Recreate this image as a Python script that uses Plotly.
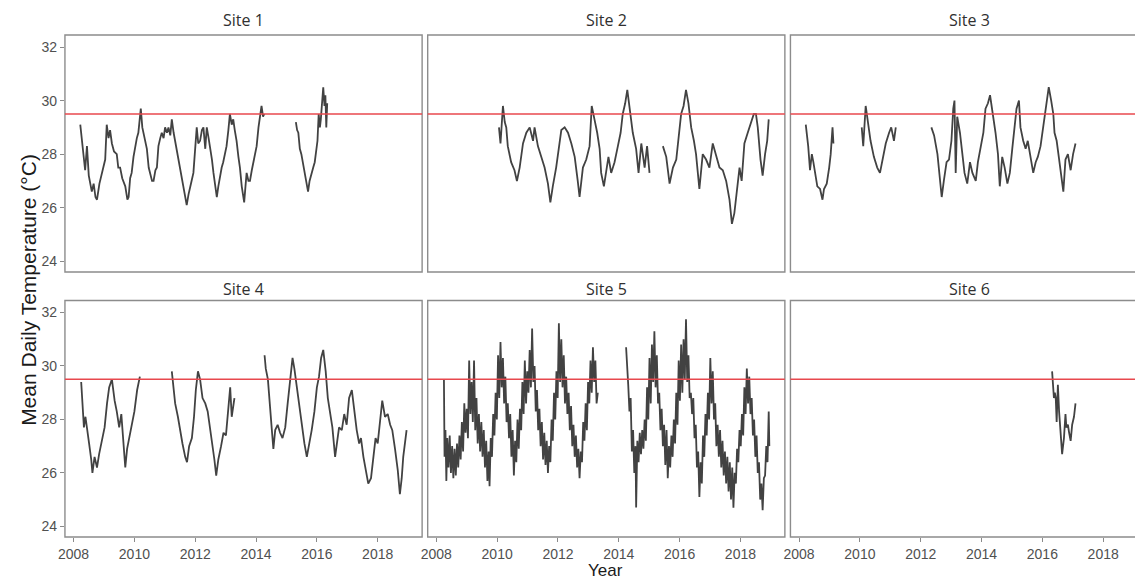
import plotly.graph_objects as go

# ---------------- data (decimal year, °C) ----------------
site1_year = [2008.22, 2008.26, 2008.33, 2008.38, 2008.44, 2008.50, 2008.60, 2008.66, 2008.72, 2008.77,
              2008.85, 2008.93, 2009.00, 2009.04, 2009.09, 2009.15, 2009.20, 2009.26, 2009.33, 2009.42,
              2009.47, 2009.53, 2009.60, 2009.70, 2009.77, 2009.81, 2009.86, 2009.91, 2009.97, 2010.02,
              2010.08, 2010.13, 2010.21, 2010.26, 2010.30, 2010.36, 2010.41, 2010.47, 2010.52, 2010.58,
              2010.63, 2010.69, 2010.74, 2010.79, 2010.85, 2010.90, 2010.96, 2011.01, 2011.07, 2011.12,
              2011.18, 2011.23, 2011.29, 2011.34, 2011.40, 2011.45, 2011.53, 2011.61, 2011.67, 2011.72,
              2011.78, 2011.83, 2011.88, 2011.94, 2012.00, 2012.05, 2012.10, 2012.16, 2012.22, 2012.27,
              2012.33, 2012.38, 2012.44, 2012.49, 2012.55, 2012.60, 2012.66, 2012.71, 2012.76, 2012.81,
              2012.87, 2012.92, 2012.98, 2013.03, 2013.09, 2013.14, 2013.20, 2013.25, 2013.30, 2013.36,
              2013.42, 2013.47, 2013.53, 2013.58, 2013.61, 2013.66, 2013.69, 2013.75, 2013.80, 2013.86,
              2013.91, 2013.97, 2014.02, 2014.08, 2014.13, 2014.18, 2014.23, 2014.27, None,
              2015.31, 2015.35, 2015.39, 2015.44, 2015.49, 2015.55, 2015.60, 2015.66, 2015.71, 2015.76,
              2015.82, 2015.88, 2015.93, 2015.98, 2016.02, 2016.06, 2016.10, 2016.13, 2016.17, 2016.21,
              2016.25, 2016.28, 2016.31, 2016.34]
site1_temp = [29.1, 28.6, 27.9, 27.4, 28.3, 27.2, 26.6, 26.9, 26.4, 26.3,
              26.9, 27.3, 27.6, 27.8, 29.1, 28.6, 28.9, 28.4, 28.1, 28.0,
              27.5, 27.5, 27.1, 26.8, 26.3, 26.4, 27.1, 27.3, 27.9, 28.3,
              28.6, 28.8, 29.7, 29.0, 28.8, 28.4, 28.2, 27.5, 27.3, 27.0,
              27.0, 27.4, 27.5, 28.3, 28.6, 28.8, 28.6, 29.0, 28.8, 29.0,
              28.7, 29.3, 28.8, 28.5, 28.1, 27.8, 27.3, 26.9, 26.4, 26.1,
              26.5, 26.8, 27.0, 27.3, 28.3, 29.0, 28.4, 28.5, 28.9, 29.0,
              28.2, 29.0, 28.6, 28.3, 27.8, 27.3, 26.8, 26.4, 26.8, 27.2,
              27.5, 27.7, 28.0, 28.3, 28.9, 29.5, 29.1, 29.3, 28.9, 28.5,
              27.9, 27.5, 26.8, 26.3, 26.2, 26.9, 27.3, 27.0, 27.0, 27.4,
              27.7, 28.0, 28.3, 29.0, 29.5, 29.8, 29.4, 29.5, None,
              29.2, 28.9, 28.8, 28.2, 28.0, 27.6, 27.3, 26.9, 26.6, 27.0,
              27.3, 27.5, 27.7, 28.2, 28.5, 29.5, 29.0, 29.3, 29.9, 30.5,
              29.8, 30.2, 29.0, 29.9]

site2_year = [2010.06, 2010.11, 2010.19, 2010.25, 2010.30, 2010.35, 2010.46, 2010.57, 2010.65, 2010.74,
              2010.85, 2010.96, 2011.07, 2011.18, 2011.23, 2011.34, 2011.45, 2011.56, 2011.67, 2011.75,
              2011.83, 2011.94, 2012.05, 2012.11, 2012.22, 2012.33, 2012.44, 2012.55, 2012.65, 2012.71,
              2012.82, 2012.93, 2013.04, 2013.11, 2013.20, 2013.29, 2013.37, 2013.42, 2013.51, 2013.59,
              2013.66, 2013.75, 2013.86, 2013.97, 2014.06, 2014.13, 2014.21, 2014.28, 2014.35, 2014.46,
              2014.57, 2014.65, 2014.74, 2014.85, 2014.93, 2015.01, None,
              2015.45, 2015.56, 2015.67, 2015.78, 2015.89, 2015.96, 2016.05, 2016.13, 2016.21, 2016.29,
              2016.38, 2016.47, 2016.54, 2016.65, 2016.76, 2016.87, 2016.98, 2017.09, 2017.20, 2017.31,
              2017.42, 2017.53, 2017.64, 2017.72, 2017.80, 2017.89, 2017.97, 2018.04, 2018.13, 2018.24,
              2018.35, 2018.44, 2018.51, 2018.57, 2018.66, 2018.73, 2018.81, 2018.88, 2018.93]
site2_temp = [29.0, 28.4, 29.8, 29.2, 29.0, 28.3, 27.7, 27.4, 27.0, 27.5,
              28.4, 28.8, 29.0, 28.5, 29.0, 28.3, 27.9, 27.5, 26.9, 26.2,
              26.8, 27.5, 28.4, 28.9, 29.0, 28.8, 28.4, 27.9, 27.0, 26.4,
              27.5, 27.8, 28.3, 29.8, 29.3, 28.8, 28.2, 27.3, 26.8, 27.5,
              27.9, 27.3, 27.7, 28.3, 28.8, 29.5, 29.9, 30.4, 29.8, 28.8,
              28.2, 27.3, 28.4, 27.5, 28.3, 27.3, None,
              28.3, 27.9, 26.9, 27.5, 27.8, 28.5, 29.5, 29.8, 30.4, 29.9,
              29.0, 28.5, 28.0, 26.7, 28.0, 27.8, 27.5, 28.4, 27.9, 27.5,
              27.4, 27.0, 26.3, 25.4, 25.8, 26.7, 27.5, 27.0, 28.4, 28.8,
              29.2, 29.5, 29.5, 29.0, 27.8, 27.2, 28.0, 28.5, 29.3]

site3_year = [2008.22, 2008.30, 2008.36, 2008.42, 2008.47, 2008.55, 2008.60, 2008.69, 2008.77, 2008.82,
              2008.91, 2008.99, 2009.04, 2009.10, 2009.13, None,
              2010.06, 2010.11, 2010.19, 2010.27, 2010.35, 2010.46, 2010.57, 2010.66, 2010.74, 2010.85,
              2010.96, 2011.03, 2011.12, 2011.18, None,
              2012.35, 2012.44, 2012.55, 2012.63, 2012.69, 2012.76, 2012.85, 2012.93, 2013.01, 2013.07,
              2013.11, 2013.15, 2013.20, 2013.29, 2013.37, 2013.44, 2013.53, 2013.62, 2013.70, 2013.81,
              2013.88, 2013.97, 2014.06, 2014.13, 2014.21, 2014.28, 2014.35, 2014.46, 2014.54, 2014.60,
              2014.68, 2014.76, 2014.85, 2014.93, 2015.01, 2015.09, 2015.15, 2015.23, 2015.28, 2015.37,
              2015.45, 2015.52, 2015.61, 2015.70, 2015.78, 2015.85, 2015.94, 2016.03, 2016.11, 2016.16,
              2016.21, 2016.29, 2016.36, 2016.40, 2016.47, 2016.54, 2016.62, 2016.69, 2016.76, 2016.84,
              2016.93, 2017.01, 2017.09]
site3_temp = [29.1, 28.3, 27.4, 28.0, 27.7, 27.2, 26.8, 26.7, 26.3, 26.7,
              26.9, 27.5, 28.0, 29.0, 28.4, None,
              29.0, 28.3, 29.8, 29.2, 28.5, 27.9, 27.5, 27.3, 27.8, 28.4,
              28.8, 29.0, 28.5, 29.0, None,
              29.0, 28.7, 28.0, 27.0, 26.4, 27.0, 27.7, 27.8, 28.5, 29.7,
              30.0, 27.3, 29.4, 28.8, 28.0, 27.3, 26.9, 27.7, 27.3, 27.0,
              27.7, 28.3, 28.8, 29.7, 29.9, 30.2, 29.7, 28.8, 28.0, 26.8,
              27.9, 27.5, 26.9, 27.3, 28.2, 29.2, 29.7, 30.0, 29.0, 28.5,
              28.2, 28.5, 27.9, 27.3, 27.7, 27.9, 28.3, 29.0, 29.8, 30.0,
              30.5, 30.0, 29.5, 28.8, 28.5, 27.9, 27.2, 26.6, 27.8, 28.0,
              27.4, 28.0, 28.4]

site4_year = [2008.25, 2008.30, 2008.34, 2008.39, 2008.45, 2008.51, 2008.58, 2008.62, 2008.69, 2008.77,
              2008.84, 2008.93, 2009.02, 2009.10, 2009.17, 2009.26, 2009.35, 2009.42, 2009.50, 2009.57,
              2009.63, 2009.70, 2009.76, 2009.83, 2009.92, 2010.00, 2010.09, 2010.18, None,
              2011.23, 2011.29, 2011.34, 2011.43, 2011.50, 2011.58, 2011.67, 2011.73, 2011.80, 2011.89,
              2011.96, 2012.02, 2012.09, 2012.16, 2012.24, 2012.33, 2012.41, 2012.49, 2012.57, 2012.63,
              2012.69, 2012.76, 2012.85, 2012.93, 2013.01, 2013.07, 2013.15, 2013.20, 2013.29, None,
              2014.28, 2014.32, 2014.39, 2014.46, 2014.52, 2014.57, 2014.63, 2014.71, 2014.79, 2014.87,
              2014.96, 2015.04, 2015.12, 2015.20, 2015.26, 2015.34, 2015.42, 2015.50, 2015.59, 2015.67,
              2015.74, 2015.83, 2015.92, 2016.00, 2016.07, 2016.14, 2016.21, 2016.29, 2016.36, 2016.43,
              2016.51, 2016.60, 2016.65, 2016.73, 2016.82, 2016.90, 2016.98, 2017.06, 2017.15, 2017.23,
              2017.31, 2017.39, 2017.45, 2017.53, 2017.61, 2017.69, 2017.78, 2017.86, 2017.93, 2018.00,
              2018.08, 2018.15, 2018.24, 2018.33, 2018.41, 2018.48, 2018.57, 2018.66, 2018.73, 2018.79,
              2018.84, 2018.90, 2018.95]
site4_temp = [29.4, 28.2, 27.7, 28.1, 27.5, 27.1, 26.5, 26.0, 26.6, 26.2,
              26.7, 27.2, 27.7, 28.6, 29.2, 29.5, 28.7, 28.3, 27.7, 28.2,
              27.1, 26.2, 26.9, 27.3, 27.8, 28.3, 29.1, 29.6, None,
              29.8, 29.2, 28.6, 28.1, 27.6, 27.1, 26.6, 26.4, 27.0, 27.3,
              28.1, 29.1, 29.8, 29.5, 28.8, 28.6, 28.3, 27.7, 27.1, 26.5,
              25.9, 26.5, 27.0, 27.5, 27.4, 28.3, 29.2, 28.1, 28.8, None,
              30.4, 29.9, 29.5, 28.3, 27.6, 26.9, 27.6, 27.8, 27.5, 27.3,
              27.7, 28.6, 29.5, 30.3, 29.9, 29.2, 28.6, 27.8, 27.1, 26.6,
              27.0, 27.6, 28.3, 29.2, 29.6, 30.3, 30.6, 29.8, 28.8, 28.3,
              27.7, 26.6, 27.1, 27.7, 27.6, 28.2, 27.8, 28.8, 29.1, 28.3,
              27.6, 27.1, 27.3, 26.6, 26.1, 25.6, 25.8, 26.6, 27.3, 27.1,
              28.1, 28.7, 28.1, 28.2, 27.8, 27.6, 26.9, 26.1, 25.2, 25.8,
              26.6, 27.1, 27.6]

site5_year = [2008.25, 2008.27, 2008.30, 2008.33, 2008.36, 2008.40, 2008.44, 2008.48, 2008.52, 2008.56,
              2008.60, 2008.64, 2008.68, 2008.72, 2008.76, 2008.80, 2008.84, 2008.88, 2008.92, 2008.96,
              2009.00, 2009.04, 2009.08, 2009.12, 2009.16, 2009.20, 2009.24, 2009.28, 2009.32, 2009.36,
              2009.40, 2009.44, 2009.48, 2009.52, 2009.56, 2009.60, 2009.64, 2009.68, 2009.72, 2009.75,
              2009.79, 2009.83, 2009.87, 2009.91, 2009.95, 2009.99, 2010.03, 2010.07, 2010.11, 2010.15,
              2010.19, 2010.23, 2010.27, 2010.31, 2010.35, 2010.39, 2010.43, 2010.47, 2010.51, 2010.55,
              2010.59, 2010.63, 2010.67, 2010.71, 2010.75, 2010.79, 2010.83, 2010.87, 2010.91, 2010.95,
              2010.99, 2011.03, 2011.07, 2011.11, 2011.15, 2011.19, 2011.23, 2011.27, 2011.31, 2011.35,
              2011.39, 2011.43, 2011.47, 2011.51, 2011.55, 2011.59, 2011.63, 2011.67, 2011.71, 2011.75,
              2011.79, 2011.83, 2011.87, 2011.91, 2011.95, 2011.99, 2012.03, 2012.07, 2012.11, 2012.15,
              2012.19, 2012.23, 2012.27, 2012.31, 2012.35, 2012.39, 2012.43, 2012.47, 2012.51, 2012.55,
              2012.59, 2012.63, 2012.67, 2012.71, 2012.75, 2012.79, 2012.83, 2012.87, 2012.91, 2012.95,
              2012.99, 2013.03, 2013.07, 2013.11, 2013.15, 2013.19, 2013.23, 2013.27, 2013.31, None,
              2014.24, 2014.27, 2014.31, 2014.35, 2014.39, 2014.43, 2014.47, 2014.51, 2014.55, 2014.57,
              2014.61, 2014.65, 2014.69, 2014.73, 2014.77, 2014.81, 2014.85, 2014.89, 2014.93, 2014.97,
              2015.01, 2015.05, 2015.09, 2015.13, 2015.17, 2015.21, 2015.25, 2015.29, 2015.33, 2015.37,
              2015.41, 2015.45, 2015.49, 2015.53, 2015.57, 2015.61, 2015.65, 2015.69, 2015.73, 2015.77,
              2015.81, 2015.85, 2015.89, 2015.93, 2015.97, 2016.01, 2016.05, 2016.09, 2016.13, 2016.17,
              2016.21, 2016.25, 2016.29, 2016.33, 2016.37, 2016.41, 2016.45, 2016.49, 2016.53, 2016.57,
              2016.61, 2016.65, 2016.69, 2016.73, 2016.77, 2016.81, 2016.85, 2016.89, 2016.93, 2016.97,
              2017.01, 2017.05, 2017.09, 2017.13, 2017.17, 2017.21, 2017.25, 2017.29, 2017.33, 2017.37,
              2017.41, 2017.45, 2017.49, 2017.53, 2017.57, 2017.61, 2017.65, 2017.69, 2017.73, 2017.77,
              2017.81, 2017.85, 2017.89, 2017.93, 2017.97, 2018.01, 2018.05, 2018.09, 2018.13, 2018.17,
              2018.21, 2018.25, 2018.29, 2018.33, 2018.37, 2018.41, 2018.45, 2018.49, 2018.53, 2018.57,
              2018.61, 2018.65, 2018.69, 2018.73, 2018.77, 2018.81, 2018.85, 2018.89, 2018.93, 2018.95]
site5_temp = [29.5, 26.6, 27.6, 25.7, 27.3, 26.2, 27.4, 26.0, 27.0, 25.8,
              26.9, 25.9, 27.1, 26.2, 27.4, 26.5, 27.9, 26.8, 28.6, 27.5,
              28.4, 27.3, 30.2, 28.2, 29.4, 27.9, 30.2, 27.6, 28.8, 27.1,
              28.2, 26.8, 27.9, 26.6, 27.6, 26.2, 27.2, 25.7, 26.8, 25.5,
              27.3, 26.6, 28.2, 27.4, 29.0, 28.0, 30.4, 28.8, 30.9, 29.2,
              30.3, 28.6, 29.6, 27.9, 28.6, 27.3, 28.2, 26.6, 27.6, 25.9,
              27.2, 26.4, 28.0, 26.9, 28.4, 27.6, 29.4, 28.2, 30.2, 28.6,
              29.8, 29.0, 30.6, 29.2, 31.4, 29.4, 30.0, 28.3, 29.1, 27.6,
              28.4, 27.0, 27.9, 26.5, 27.5, 26.3, 27.2, 26.0, 27.0, 26.4,
              28.0, 27.2, 29.0, 28.0, 29.8, 28.8, 31.6, 29.4, 31.0, 29.2,
              30.4, 28.6, 29.6, 28.2, 29.0, 27.6, 28.5, 27.0, 27.8, 26.6,
              27.4, 26.2, 26.9, 25.8, 26.8, 26.4, 27.9, 27.2, 28.6, 27.6,
              29.4, 28.6, 30.2, 29.0, 30.7, 29.4, 30.2, 28.6, 29.0, None,
              30.7, 30.2, 29.3, 28.3, 28.8, 26.8, 27.6, 26.0, 27.0, 24.7,
              27.2, 26.4, 27.5, 26.7, 27.6, 26.9, 28.0, 27.2, 29.2, 28.0,
              30.3, 28.6, 30.8, 29.4, 31.3, 29.2, 30.4, 28.6, 29.0, 27.6,
              28.4, 27.0, 27.8, 26.3, 27.6, 25.8, 27.0, 26.2, 27.4, 26.6,
              28.0, 27.1, 29.0, 27.8, 30.2, 28.7, 30.8, 29.0, 31.0, 29.5,
              31.75, 29.4, 30.4, 28.8, 29.0, 28.2, 28.8, 27.3, 27.8, 26.2,
              26.8, 25.1, 26.4, 25.6, 27.4, 26.6, 28.2, 27.4, 29.0, 28.0,
              30.3, 28.6, 29.8, 28.0, 28.6, 27.0, 27.8, 26.6, 27.6, 26.2,
              27.2, 25.9, 26.8, 25.6, 26.6, 25.3, 26.4, 25.0, 26.2, 24.7,
              26.0, 25.6, 26.9, 26.4, 27.6, 27.0, 28.2, 27.4, 29.2, 28.2,
              29.9, 28.6, 29.6, 28.2, 28.8, 27.4, 28.0, 26.6, 27.4, 26.0,
              26.4, 25.0, 25.6, 24.6, 25.8, 25.9, 27.0, 26.4, 28.3, 27.0]

site6_year = [2016.32, 2016.38, 2016.41, 2016.44, 2016.47, 2016.51, 2016.55, 2016.60, 2016.65, 2016.71,
              2016.76, 2016.79, 2016.84, 2016.88, 2016.93, 2016.98, 2017.04, 2017.09]
site6_temp = [29.8, 28.8, 29.0, 28.8, 27.9, 29.3, 28.3, 27.5, 26.7, 27.3,
              28.2, 27.7, 27.8, 27.5, 27.2, 27.8, 28.1, 28.6]

site_names = ["Site 1", "Site 2", "Site 3", "Site 4", "Site 5", "Site 6"]
site_years = [site1_year, site2_year, site3_year, site4_year, site5_year, site6_year]
site_temps = [site1_temp, site2_temp, site3_temp, site4_temp, site5_temp, site6_temp]
threshold = 29.5
x_ticks = [2008, 2010, 2012, 2014, 2016, 2018]
y_ticks = [24, 26, 28, 30, 32]

# ---------------- layout geometry (pixels) ----------------
W, H = 1135, 581
col_px = [(58.3, 417.7), (423.3, 782.7), (788.3, 1147.7)]
row_px = [(35.0, 272.0), (300.5, 537.0)]
strip_y = [20.5, 288.5]
x_left = 2007.716
px_per_year = 30.6
y_range = [23.6, 32.45]

fig = go.Figure()
layout = dict(
    width=W, height=H, margin=dict(l=0, r=0, t=0, b=0),
    paper_bgcolor="white", plot_bgcolor="white", showlegend=False,
)
shapes = []
annotations = []
tick_font = dict(family="Liberation Sans, Arial", size=14, color="#505050")

for i in range(6):
    r, c = divmod(i, 3)
    n = "" if i == 0 else str(i + 1)
    x0p, x1p = col_px[c]
    y0p, y1p = row_px[r]
    x1_vis = min(x1p, W)
    xr = [x_left, x_left + (x1_vis - x0p) / px_per_year]
    fig.add_trace(go.Scatter(
        x=site_years[i], y=site_temps[i], mode="lines",
        line=dict(color="rgba(50,50,50,0.92)", width=1.8),
        connectgaps=False, xaxis="x" + n, yaxis="y" + n, hoverinfo="skip"))
    layout["xaxis" + n] = dict(
        domain=[x0p / W, x1_vis / W], range=xr, anchor="y" + n,
        showgrid=False, zeroline=False, showline=False,
        tickvals=x_ticks, ticktext=[str(v) for v in x_ticks],
        ticks="outside" if r == 1 else "", ticklen=4, tickcolor="#8a8a8a",
        showticklabels=(r == 1), tickfont=tick_font)
    layout["yaxis" + n] = dict(
        domain=[1 - y1p / H, 1 - y0p / H], range=y_range, anchor="x" + n,
        showgrid=False, zeroline=False, showline=False,
        tickvals=y_ticks, ticktext=[str(v) for v in y_ticks],
        ticks="outside" if c == 0 else "", ticklen=4, tickcolor="#8a8a8a",
        showticklabels=(c == 0), tickfont=tick_font)
    # panel border
    shapes.append(dict(type="rect", xref="paper", yref="paper",
                       x0=x0p / W, x1=x1p / W, y0=1 - y1p / H, y1=1 - y0p / H,
                       line=dict(color="#8c8c8c", width=1.4), layer="above"))
    # threshold line
    shapes.append(dict(type="line", xref="x" + n + " domain", yref="y" + n,
                       x0=0, x1=1, y0=threshold, y1=threshold,
                       line=dict(color="rgb(232,72,78)", width=1.5), layer="above"))
    # strip title
    annotations.append(dict(text=site_names[i], xref="paper", yref="paper",
                            x=((x0p + x1p) / 2) / W, y=1 - strip_y[r] / H,
                            xanchor="center", yanchor="middle", showarrow=False,
                            font=dict(family="Open Sans, Noto Sans", size=16, color="#303030")))

annotations.append(dict(text="Year", xref="paper", yref="paper", x=602 / W, y=1 - 570.5 / H,
                        xanchor="center", yanchor="middle", showarrow=False,
                        font=dict(family="Liberation Sans, Arial", size=17, color="#1a1a1a")))
annotations.append(dict(text="Mean Daily Temperature (°C)", xref="paper", yref="paper",
                        x=21 / W, y=1 - 290 / H, textangle=-90,
                        xanchor="center", yanchor="middle", showarrow=False,
                        font=dict(family="Liberation Sans, Arial", size=21, color="#1a1a1a")))

layout["shapes"] = shapes
layout["annotations"] = annotations
fig.update_layout(**layout)
fig.write_html("out.html")
